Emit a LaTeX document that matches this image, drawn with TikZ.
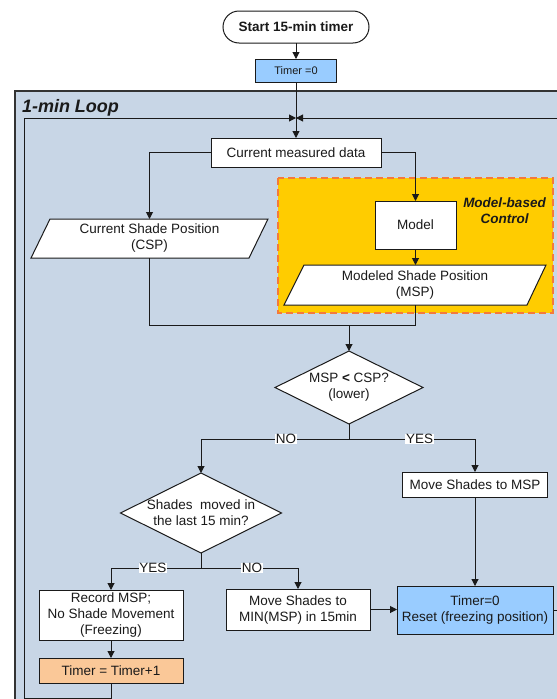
\documentclass[tikz,border=0pt]{standalone}
\usepackage{fontspec}
\setmainfont{Liberation Sans}
\usetikzlibrary{arrows.meta,shapes.geometric,calc}
\pgfdeclarelayer{back}
\pgfdeclarelayer{mid}
\pgfsetlayers{back,mid,main}

\definecolor{loopfill}{HTML}{C8D6E6}
\definecolor{timerblue}{HTML}{99CCFF}
\definecolor{peach}{HTML}{FAC898}
\definecolor{gold}{HTML}{FFCC00}
\definecolor{dashorange}{HTML}{F47A3A}
\definecolor{ink}{HTML}{1A1A1A}

\tikzset{
  base/.style={font=\fontsize{13.5}{16}\selectfont, align=center, inner sep=0pt, outer sep=0pt, text=ink},
  box/.style={base, draw=ink, line width=1pt, fill=white},
  term/.style={box, rounded corners=16pt, minimum width=146pt, minimum height=32pt, font=\fontsize{13.5}{16}\selectfont\bfseries},
  smallbox/.style={box, fill=timerblue, font=\fontsize{11}{13}\selectfont},
  iotext/.style={base},
  ioshape/.style={draw=ink, line width=1pt, fill=white},
  decision/.style={base, shape=diamond, draw=ink, line width=1pt, fill=white},
  dtext/.style={base},
  lbl/.style={base, fill=white, inner xsep=0.6pt, inner ysep=0.3pt},
  line/.style={draw=ink, line width=1pt},
  flow/.style={line, -{Triangle[length=7pt,width=7pt]}},
  loopframe/.style={draw=black!80, line width=1.2pt, fill=loopfill},
  mbcframe/.style={draw=dashorange, line width=1.2pt, dash pattern=on 7pt off 4pt, fill=gold},
  looptitle/.style={base, font=\fontsize{18}{20}\selectfont\bfseries\itshape},
  mbctitle/.style={base, font=\fontsize{13.5}{16}\selectfont\bfseries\itshape}
}

\begin{document}
\begin{tikzpicture}[x=1pt,y=-1pt]
\useasboundingbox (0,0) rectangle (557,699);
\clip (0,0) rectangle (557,699);

% loop frame and model-based control region
\begin{pgfonlayer}{back}
  \clip (0,0) rectangle (557,699);
  \draw[loopframe] (15,91) rectangle (565,710);
  \node[looptitle, anchor=base west] (looptitle) at (22,112) {1-min Loop};
  \draw[mbcframe] (278,178) rectangle (553,313);
  \node[mbctitle] (mbctitle) at (504.5,211) {Model-based\\Control};
\end{pgfonlayer}

% top of the chart
\node[term] (start) at (296,27) {Start 15-min timer};
\node[smallbox, minimum width=81pt, minimum height=23pt] (t0) at (296,70.5) {Timer =0};
\node[box, minimum width=170pt, minimum height=29pt] (cmd) at (296,152.5) {Current measured data};
\coordinate (merge) at (296,118);

% data inputs
\node[iotext, minimum width=237pt, minimum height=39pt] (csp) at (149.5,238.5) {Current Shade Position\\(CSP)};
\node[box, minimum width=81pt, minimum height=48pt] (model) at (415.5,225) {Model};
\node[iotext, minimum width=262pt, minimum height=40pt] (msp) at (415,285) {Modeled Shade Position\\(MSP)};
\begin{pgfonlayer}{mid}
  \draw[ioshape] (csp.south west) -- ([xshift=19pt]csp.north west) -- (csp.north east) -- ([xshift=-19pt]csp.south east) -- cycle;
  \draw[ioshape] (msp.south west) -- ([xshift=20pt]msp.north west) -- (msp.north east) -- ([xshift=-19pt]msp.south east) -- cycle;
\end{pgfonlayer}

% decisions
\node[decision, minimum width=148pt, minimum height=73pt,
      label={[dtext]center:MSP \textbf{<} CSP?\\(lower)}] (d1) at (349,387.5) {};
\node[decision, minimum width=161pt, minimum height=80pt,
      label={[dtext]center:Shades\ \ moved in\\the last 15 min?}] (d2) at (201,513) {};

% actions
\node[box, minimum width=145pt, minimum height=25pt] (mvmsp) at (475,484.5) {Move Shades to MSP};
\node[box, minimum width=144pt, minimum height=50pt] (rec) at (111,615) {Record MSP;\\No Shade Movement\\(Freezing)};
\node[box, fill=peach, minimum width=144pt, minimum height=25pt] (tplus) at (111,670.5) {Timer = Timer+1};
\node[box, minimum width=144pt, minimum height=41pt] (minb) at (298,609.5) {Move Shades to\\MIN(MSP) in 15min};
\node[box, fill=timerblue, minimum width=156pt, minimum height=48pt] (reset) at (475,610) {Timer=0\\Reset (freezing position)};

% connectors
\draw[flow] (start) -- (t0);
\draw[flow] (t0) -- (cmd);
\draw[flow] (cmd.west) -| (csp.north);
\draw[flow] (cmd.east) -| (model.north);
\draw[flow] (model.south) -- (model.south |- msp.north);

\coordinate (join) at (349,325);
\draw[line] (csp.south) |- (join);
\draw[line] (msp.south) |- (join);
\draw[flow] (join) -- (d1.north);

\coordinate (b1) at (349,439);
\draw[line] (d1.south) -- (b1);
\draw[flow] (b1) -| node[lbl, pos=0.213] {NO} (d2.north);
\draw[flow] (b1) -| node[lbl, pos=0.28] {YES} (mvmsp.north);

\coordinate (b2) at (201,568);
\draw[line] (d2.south) -- (b2);
\draw[flow] (b2) -| node[lbl, pos=0.267] {YES} (rec.north);
\draw[flow] (b2) -| node[lbl, pos=0.263] {NO} (minb.north);

\draw[flow] (mvmsp.south) -- (reset.north);
\draw[flow] (rec.south) -- (tplus.north);
\draw[flow] (minb.east) -- (minb.east -| reset.west);

% loop-back paths into the merge point
\coordinate (loopL) at (24,698);
\coordinate (loopR) at (566,610);
\draw[flow] (tplus.south) |- (loopL) |- (merge);
\draw[flow] (reset.east) -- (loopR) |- (merge);
\end{tikzpicture}
\end{document}
